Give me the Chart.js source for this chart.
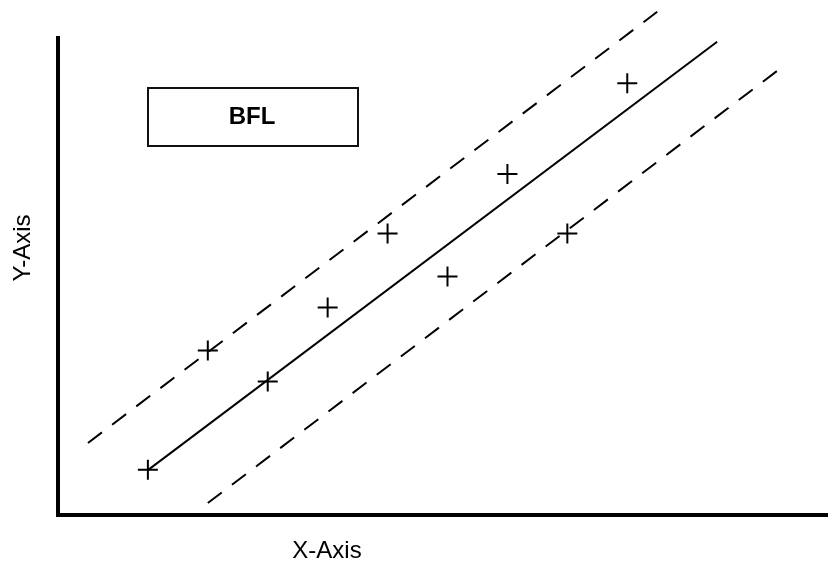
<!DOCTYPE html>
<html>
<head>
<meta charset="utf-8">
<script src="https://cdn.jsdelivr.net/npm/chart.js@4.4.1/dist/chart.umd.min.js"></script>
<style>
  html, body { margin: 0; padding: 0; background: #fff; }
  #wrap { width: 828px; height: 569px; }
</style>
</head>
<body>
<div id="wrap"><canvas id="bflChart" width="828" height="569"></canvas></div>
<script>
// -----------------------------
// Data
// -----------------------------
const obsX = [1, 2, 3, 4, 5, 6, 7, 8, 9];
const obsY = [0.95, 3.45, 2.8, 4.35, 5.9, 5.0, 7.15, 5.9, 9.05];

// best fit line and the two limit lines (end points only)
const fitX = [1, 10.5];
const fitY = [0.94, 9.92];
const upperX = [0, 9.5];
const upperY = [1.51, 10.55];
const lowerX = [2, 11.5];
const lowerY = [0.25, 9.31];

const legendText = "BFL";
const xTitle = "X-Axis";
const yTitle = "Y-Axis";

const toPoints = (xs, ys) => xs.map((x, i) => ({ x, y: ys[i] }));

// -----------------------------
// Box label + axis titles
// -----------------------------
const decorPlugin = {
  id: "decor",
  afterDraw(chart) {
    const ctx = chart.ctx;
    ctx.save();

    // legend box
    ctx.strokeStyle = "#111";
    ctx.lineWidth = 2;
    ctx.strokeRect(148, 88, 210, 58);
    ctx.fillStyle = "#000";
    ctx.font = "bold 24px 'Liberation Sans', Arial, sans-serif";
    ctx.textAlign = "center";
    ctx.textBaseline = "middle";
    ctx.fillText(legendText, 252, 117);

    // axis titles
    ctx.font = "24px 'Liberation Sans', Arial, sans-serif";
    ctx.fillText(xTitle, 327, 551);

    ctx.translate(23, 248);
    ctx.rotate(-Math.PI / 2);
    ctx.fillText(yTitle, 0, 0);

    ctx.restore();
  }
};

const ctx = document.getElementById("bflChart").getContext("2d");

new Chart(ctx, {
  type: "scatter",
  data: {
    datasets: [
      {
        label: "data",
        data: toPoints(obsX, obsY),
        pointStyle: "cross",
        pointRadius: 10,
        pointBorderWidth: 2,
        borderColor: "#000",
        showLine: false,
        clip: false
      },
      {
        label: "fit",
        data: toPoints(fitX, fitY),
        showLine: true,
        pointRadius: 0,
        borderColor: "#000",
        borderWidth: 2,
        clip: false
      },
      {
        label: "upper",
        data: toPoints(upperX, upperY),
        showLine: true,
        pointRadius: 0,
        borderColor: "#000",
        borderWidth: 2,
        borderDash: [17.5, 12.8],
        clip: false
      },
      {
        label: "lower",
        data: toPoints(lowerX, lowerY),
        showLine: true,
        pointRadius: 0,
        borderColor: "#000",
        borderWidth: 2,
        borderDash: [17.5, 12.8],
        clip: false
      }
    ]
  },
  options: {
    responsive: false,
    animation: false,
    devicePixelRatio: 1,
    layout: { autoPadding: false, padding: { left: 58, top: 38, right: 0, bottom: 54 } },
    plugins: {
      legend: { display: false },
      tooltip: { enabled: false }
    },
    scales: {
      x: {
        type: "linear",
        min: -0.5,
        max: 12.35,
        grid: { display: false, drawTicks: false },
        ticks: { display: false },
        border: { display: true, width: 4, color: "#000" },
        afterFit: s => { s.height = 0; }
      },
      y: {
        type: "linear",
        min: 0,
        max: 10,
        grid: { display: false, drawTicks: false },
        ticks: { display: false },
        border: { display: true, width: 4, color: "#000" },
        afterFit: s => { s.width = 0; }
      }
    }
  },
  plugins: [decorPlugin]
});
</script>
</body>
</html>
